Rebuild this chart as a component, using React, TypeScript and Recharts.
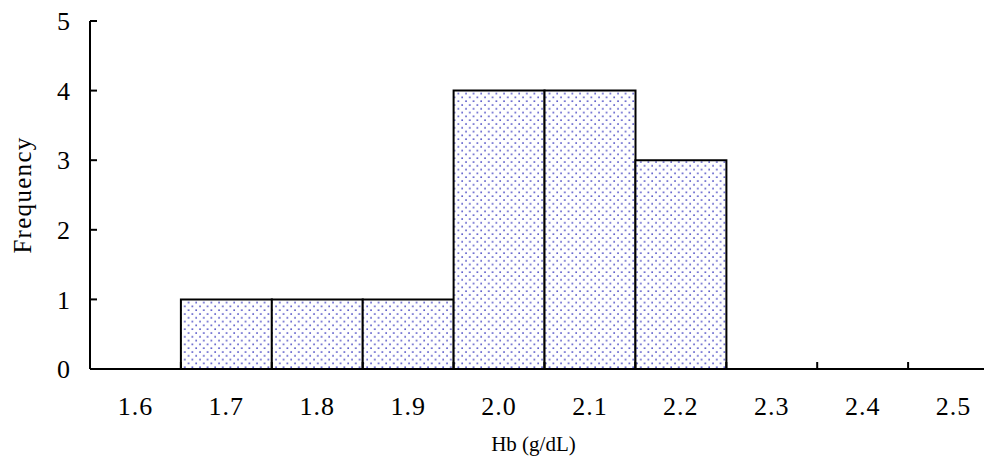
import React from 'react';
import { BarChart, Bar, XAxis, YAxis } from 'recharts';

const categories = ['1.6', '1.7', '1.8', '1.9', '2.0', '2.1', '2.2', '2.3', '2.4', '2.5'];
const frequencies = [0, 1, 1, 1, 4, 4, 3, 0, 0, 0];
const yTicks = [0, 1, 2, 3, 4, 5];

const data = categories.map((c, i) => ({ hb: c, freq: frequencies[i] }));

const FONT = '"Liberation Serif", "Times New Roman", serif';

const XTick = (props: any) => {
  const { x, y, payload } = props;
  const half = payload && typeof payload.offset === 'number' ? payload.offset : 0;
  return (
    <g>
      <line x1={x + half} x2={x + half} y1={y} y2={y - 7} stroke="#000" strokeWidth={2} />
      <text x={x} y={y + 46} textAnchor="middle" fontFamily={FONT} fontSize={26} letterSpacing={1} fill="#000">
        {payload.value}
      </text>
    </g>
  );
};

export default function App() {
  return (
    <div style={{ width: 984, height: 453, overflow: 'hidden' }}>
      <BarChart
        width={991}
        height={453}
        data={data}
        margin={{ top: 13, right: 0, left: 0, bottom: 0 }}
        barCategoryGap={0}
        barGap={0}
      >
        <defs>
          <pattern id="dots" patternUnits="userSpaceOnUse" width={7.6} height={7.6}>
            <rect width={7.6} height={7.6} fill="#fff" />
            <circle cx={2} cy={2} r={0.85} fill="#2525b8" />
            <circle cx={5.8} cy={5.8} r={0.85} fill="#2525b8" />
          </pattern>
        </defs>
        <XAxis
          dataKey="hb"
          height={92}
          tickLine={false}
          tickSize={0}
          tickMargin={0}
          interval={0}
          tick={<XTick />}
          axisLine={{ stroke: '#000', strokeWidth: 2 }}
          label={{
            value: 'Hb (g/dL)',
            position: 'insideBottom',
            offset: 10,
            dx: -11,
            style: { fontFamily: FONT, fontSize: 21, fill: '#000' },
          }}
        />
        <YAxis
          width={82}
          domain={[0, 5]}
          ticks={yTicks}
          interval={0}
          tickSize={-7}
          tickMargin={27}
          axisLine={{ stroke: '#000', strokeWidth: 2 }}
          tickLine={{ stroke: '#000', strokeWidth: 2 }}
          tick={{ fontFamily: FONT, fontSize: 26, fill: '#000' }}
          label={{
            value: 'Frequency',
            angle: -90,
            position: 'insideLeft',
            offset: 14,
            style: { textAnchor: 'middle', fontFamily: FONT, fontSize: 25, letterSpacing: 1.3, fill: '#000' },
          }}
        />
        <Bar
          dataKey="freq"
          fill="url(#dots)"
          stroke="#000"
          strokeWidth={2}
          isAnimationActive={false}
        />
      </BarChart>
    </div>
  );
}
